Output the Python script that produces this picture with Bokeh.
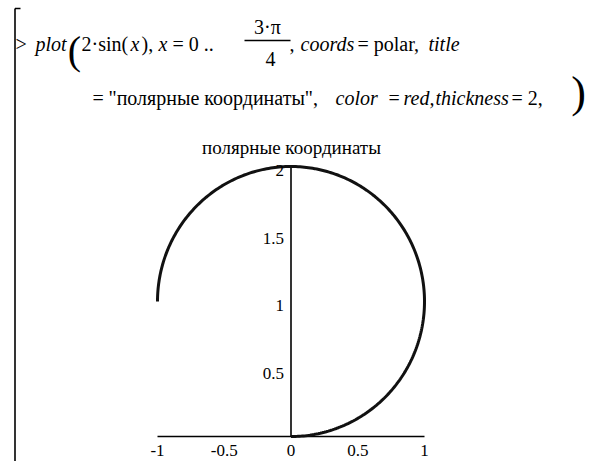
import numpy as np
from bokeh.plotting import figure
from bokeh.models import Label
from bokeh.core.properties import value
from bokeh.embed import file_html
from bokeh.resources import INLINE

# ---- data ----
title_text = "полярные координаты"
amplitude = 2.0                 # r = 2*sin(x)
theta_start = 0.0
theta_end = 3 * np.pi / 4       # x = 0 .. 3*pi/4
x_ticks = [-1, -0.5, 0, 0.5, 1]
x_tick_labels = ["-1", "-0.5", "0", "0.5", "1"]
y_ticks = [0.5, 1, 1.5, 2]
y_tick_labels = ["0.5", "1", "1.5", "2"]

theta = np.linspace(theta_start, theta_end, 300)
r = amplitude * np.sin(theta)
cx = r * np.cos(theta)
cy = r * np.sin(theta)

FONT = "'Liberation Serif', 'DejaVu Serif', serif"
W, H = 593, 461
PPX, PPY = 133.5, 135.0
X0 = -1 - 157 / PPX
X1 = X0 + W / PPX
YT = 436 / PPY
YB = YT - H / PPY

p = figure(width=W, height=H, x_range=(X0, X1), y_range=(YB, YT),
           output_backend="svg", toolbar_location=None, min_border=0,
           x_axis_type=None, y_axis_type=None)
p.grid.visible = False
p.outline_line_color = None
p.background_fill_color = "white"
p.border_fill_color = "white"

# axes
p.segment(x0=[x_ticks[0], 0], y0=[0, 0], x1=[x_ticks[-1], 0], y1=[0, y_ticks[-1]],
          line_color="black", line_width=1.6)
# curve
p.line(cx, cy, line_color="#111111", line_width=3)

# tick labels
p.text(x=x_ticks, y=[0] * len(x_ticks), text=x_tick_labels, y_offset=14,
       text_align="center", text_baseline="middle",
       text_font=value(FONT), text_font_size="17px", text_color="black")
p.text(x=[0] * len(y_ticks), y=y_ticks, text=y_tick_labels, x_offset=-7, y_offset=4,
       text_align="right", text_baseline="middle",
       text_font=value(FONT), text_font_size="17px", text_color="black")


def lab(xr, yr, text, style="normal", size=20, align="left"):
    p.add_layout(Label(x=xr, y=H - yr, x_units="screen", y_units="screen",
                       text=text, text_font=FONT, text_font_style=style,
                       text_font_size=f"{size}px", text_align=align,
                       text_baseline="middle", text_color="black"))


def px2x(X):
    return X0 + X / PPX


def px2y(Y):
    return YT - Y / PPY


# chart title
lab(291, 147, title_text, size=19, align="center")

# Maple command, line 1
runs1 = [(15, ">", "normal"), (35, "plot", "italic"), (81, "2·sin(", "normal"),
         (130, "x", "italic"), (141, "),", "normal"), (158, "x", "italic"),
         (172, "= 0 ..", "normal"), (289, ",", "normal"), (300, "coords", "italic"),
         (357, "= polar,", "normal"), (428, "title", "italic")]
for xr, t, s in runs1:
    lab(xr, 43, t, s)
lab(267, 26, "3·π", align="center")
lab(270, 58, "4", align="center")
lab(74, 50, "(", size=40, align="center")

# line 2
runs2 = [(92, "=", "normal"), (108, "\"" + title_text + "\",", "normal"),
         (335, "color", "italic"), (388, "=", "normal"), (403, "red,", "italic"),
         (435, "thickness", "italic"), (511, "= 2,", "normal")]
for xr, t, s in runs2:
    lab(xr, 97, t, s)
lab(578, 92, ")", size=44, align="center")

# fraction bar and left worksheet bracket (decoration)
deco = [((244, 40), (290, 40), 1.3), ((14.5, 8), (14.5, 461), 1.6), ((14.5, 8), (20, 8), 1.3)]
for (a, b), (c, d), lw in deco:
    p.segment(x0=[px2x(a)], y0=[px2y(b)], x1=[px2x(c)], y1=[px2y(d)],
              line_color="black", line_width=lw)

open("out.html", "w").write(file_html(p, INLINE))
